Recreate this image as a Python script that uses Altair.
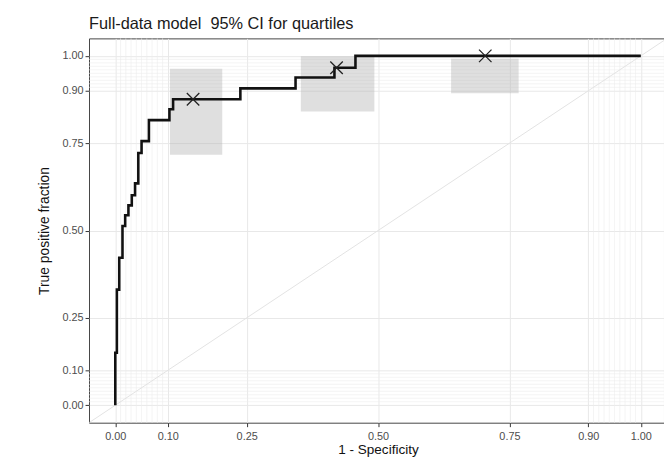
import altair as alt
import pandas as pd

# ---- text ----
title_text = "Full-data model\u00a0 95% CI for quartiles"
x_title = "1 - Specificity"
y_title = "True positive fraction"

# ---- axis breaks ----
breaks = [0.0, 0.1, 0.25, 0.5, 0.75, 0.9, 1.0]
minor_breaks = [0.01, 0.02, 0.03, 0.04, 0.05, 0.06, 0.07, 0.08, 0.09,
                0.91, 0.92, 0.93, 0.94, 0.95, 0.96, 0.97, 0.98, 0.99]

# ---- empirical ROC curve (step after each point) ----
roc_fpr = [0.0, 0.0, 0.003, 0.0075, 0.0137, 0.0188, 0.025, 0.0314, 0.0376,
           0.0438, 0.050, 0.064, 0.103, 0.110, 0.238, 0.343, 0.417, 0.457, 1.0]
roc_tpr = [0.0, 0.150, 0.331, 0.422, 0.513, 0.544, 0.572, 0.601, 0.635,
           0.722, 0.756, 0.816, 0.847, 0.876, 0.907, 0.938, 0.966, 1.0, 1.0]

# ---- quartile points ----
q_fpr = [0.148, 0.421, 0.704]
q_tpr = [0.876, 0.966, 1.0]

# ---- 95% CI boxes ----
ci_fpr_lo = [0.104, 0.353, 0.639]
ci_fpr_hi = [0.2035, 0.493, 0.7675]
ci_tpr_lo = [0.717, 0.841, 0.893]
ci_tpr_hi = [0.963, 0.999, 0.992]

# ---- reference diagonal ----
diag_vals = [-0.05, 1.05]

FONT = "Liberation Sans"
W, H = 582, 389

roc_df = pd.DataFrame({"order": list(range(len(roc_fpr))), "fpr": roc_fpr, "tpr": roc_tpr})
q_df = pd.DataFrame({"fpr": q_fpr, "tpr": q_tpr})
ci_df = pd.DataFrame({"fpr": ci_fpr_lo, "x2": ci_fpr_hi, "tpr": ci_tpr_lo, "y2": ci_tpr_hi})
diag_df = pd.DataFrame({"fpr": diag_vals, "tpr": diag_vals})
minor_df = pd.DataFrame({"fpr": minor_breaks, "tpr": minor_breaks})

xs = alt.Scale(domain=[-0.05, 1.0441], nice=False, zero=False)
ys = alt.Scale(domain=[-0.05, 1.05], nice=False, zero=False)

x_axis = alt.Axis(values=breaks, format=".2f", title=x_title, grid=True,
                  gridColor="#e8e8e8", gridWidth=1, domain=False,
                  tickColor="#333333", tickSize=4, tickWidth=1,
                  labelPadding=4, labelFontSize=11, labelColor="#4d4d4d",
                  labelFont=FONT, titleFont=FONT, titleFontSize=13.7,
                  titleFontWeight="normal", titleColor="#111111",
                  titleX=292.5, titleY=31, titleBaseline="alphabetic")
y_axis = alt.Axis(values=breaks, format=".2f", title=y_title, grid=True,
                  gridColor="#e8e8e8", gridWidth=1, domain=False,
                  tickColor="#333333", tickSize=4, tickWidth=1,
                  labelPadding=2, labelFontSize=11, labelColor="#4d4d4d",
                  labelFont=FONT, titleFont=FONT, titleFontSize=14,
                  titleFontWeight="normal", titleColor="#111111",
                  titleX=-41, titleY=H / 2, titleBaseline="alphabetic")

X = alt.X("fpr:Q", scale=xs, axis=x_axis, title=x_title)
Y = alt.Y("tpr:Q", scale=ys, axis=y_axis, title=y_title)

minor_v = alt.Chart(minor_df).mark_rule(color="#ececec", strokeWidth=0.6).encode(x=X)
minor_h = alt.Chart(minor_df).mark_rule(color="#ececec", strokeWidth=0.6).encode(y=Y)

diag = alt.Chart(diag_df).mark_line(color="#e3e3e3", strokeWidth=1, clip=True).encode(x=X, y=Y)

boxes = alt.Chart(ci_df).mark_rect(color="#b0b0b0", opacity=0.4).encode(
    x=X, x2="x2:Q", y=Y, y2="y2:Q")

roc_line = alt.Chart(roc_df).mark_line(color="#111111", strokeWidth=2.6,
                                       interpolate="step-after", strokeJoin="miter").encode(
    x=X, y=Y, order="order:Q")

points = alt.Chart(q_df).mark_point(shape="M-1,-1L1,1M-1,1L1,-1", size=160,
                                    filled=False, stroke="#222222", strokeWidth=1.3,
                                    opacity=1).encode(x=X, y=Y)

chart = alt.layer(minor_v, minor_h, diag, boxes, roc_line, points).properties(
    width=W, height=H,
    autosize="none",
    padding={"left": 82, "top": 28, "right": 0, "bottom": 36},
    title=alt.TitleParams(text=title_text, anchor="start", frame="group", font=FONT,
                          fontSize=16.5, fontWeight="normal", color="#1a1a1a", offset=6),
    background="white",
).configure_view(stroke="#444444", strokeWidth=1)

chart.save("out.html", embed_options={"renderer": "svg", "actions": False})
